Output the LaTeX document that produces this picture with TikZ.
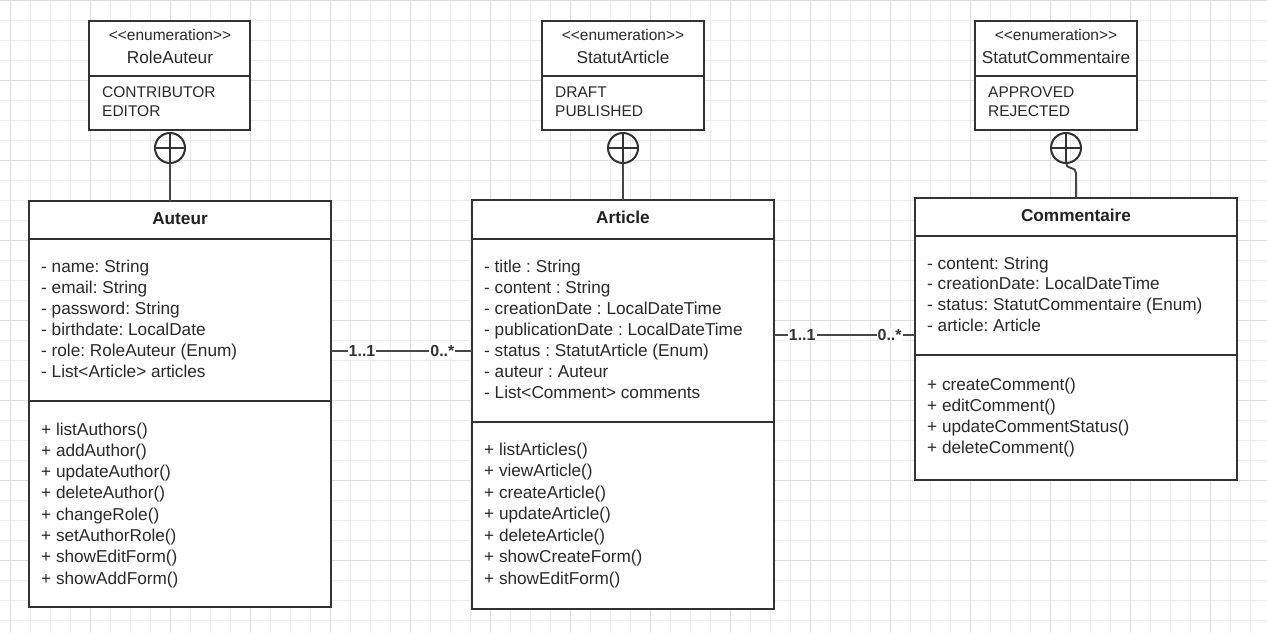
\documentclass[tikz,border=0pt]{standalone}
\usepackage{fontspec}
\setmainfont{Liberation Sans}
\frenchspacing
\definecolor{inkc}{HTML}{333333}
\definecolor{txtc}{HTML}{2A2A2A}
\definecolor{gridminor}{HTML}{ECECEC}
\definecolor{gridmajor}{HTML}{DDDDDD}
\begin{document}
\begin{tikzpicture}[x=1pt,y=-1pt,
  umlbox/.style={draw=inkc, line width=2pt, fill=white, anchor=north west, inner sep=0pt, outer sep=0pt},
  divider/.style={draw=inkc, line width=2pt},
  conn/.style={draw=inkc!90, line width=2pt},
  member/.style={anchor=base west, inner sep=0pt, text=txtc, font=\fontsize{17.2}{21}\selectfont},
  literal/.style={anchor=base west, inner sep=0pt, text=txtc, font=\fontsize{15.5}{19}\selectfont},
  classname/.style={anchor=base, inner sep=0pt, text=txtc!80!black, font=\fontsize{17.2}{21}\selectfont\bfseries},
  enumname/.style={anchor=base, inner sep=0pt, text=txtc, font=\fontsize{17.2}{21}\selectfont},
  stereo/.style={anchor=base, inner sep=0pt, text=txtc, font=\fontsize{15.5}{19}\selectfont},
  mult/.style={anchor=center, fill=white, inner sep=1pt, text=inkc, font=\fontsize{16}{19}\selectfont\bfseries},
  nest/.style={circle, draw=inkc, line width=2pt, minimum size=30pt, inner sep=0pt, outer sep=0pt,
    path picture={\draw[inkc, line width=2pt]
      (path picture bounding box.north) -- (path picture bounding box.south)
      (path picture bounding box.west) -- (path picture bounding box.east);}},
]
% canvas and background grid
\useasboundingbox (0,0) rectangle (1267,633);
\fill[white] (0,0) rectangle (1267,633);
\foreach \gx in {10,30,...,1270} \draw[gridminor, line width=1pt] (\gx,0) -- (\gx,633);
\foreach \gy in {0,20,...,640} \draw[gridminor, line width=1pt] (0,\gy) -- (1267,\gy);
\foreach \gx in {10,90,...,1270} \draw[gridmajor, line width=1pt] (\gx,0) -- (\gx,633);
\foreach \gy in {0,80,...,640} \draw[gridmajor, line width=1pt] (0,\gy) -- (1267,\gy);

% ---------- enumerations ----------
\node[umlbox, minimum width=161pt, minimum height=109pt] (roleAuteur) at (89,21) {};
\draw[divider] (roleAuteur.west |- 0,76) -- (roleAuteur.east |- 0,76);
\node[stereo] (roleAuteurSt) at (170,40.5) {<{}<enumeration>{}>};
\node[enumname] (roleAuteurNm) at (170,63) {RoleAuteur};
\node[literal] (roleLit1) at (102,97.5) {CONTRIBUTOR};
\node[literal] (roleLit2) at (102,116.5) {EDITOR};

\node[umlbox, minimum width=162pt, minimum height=109pt] (statutArticle) at (542,21) {};
\draw[divider] (statutArticle.west |- 0,76) -- (statutArticle.east |- 0,76);
\node[stereo] (statutArticleSt) at (623,40.5) {<{}<enumeration>{}>};
\node[enumname] (statutArticleNm) at (623,63) {StatutArticle};
\node[literal] (artLit1) at (555,97.5) {DRAFT};
\node[literal] (artLit2) at (555,116.5) {PUBLISHED};

\node[umlbox, minimum width=162pt, minimum height=109pt] (statutComm) at (975,21) {};
\draw[divider] (statutComm.west |- 0,76) -- (statutComm.east |- 0,76);
\node[stereo] (statutCommSt) at (1056,40.5) {<{}<enumeration>{}>};
\node[enumname] (statutCommNm) at (1056,63) {StatutCommentaire};
\node[literal] (comLit1) at (988,97.5) {APPROVED};
\node[literal] (comLit2) at (988,116.5) {REJECTED};

% ---------- classes ----------
\node[umlbox, minimum width=302pt, minimum height=406pt] (auteur) at (29,201) {};
\draw[divider] (auteur.west |- 0,239) -- (auteur.east |- 0,239);
\draw[divider] (auteur.west |- 0,401) -- (auteur.east |- 0,401);
\node[classname] (auteurNm) at (180,224) {Auteur};
\foreach \t [count=\i] in {{- name: String},{- email: String},{- password: String},{- birthdate: LocalDate},{- role: RoleAuteur (Enum)},{- List<Article> articles}}
  \node[member] (auteurAttr\i) at (41,{272+21*(\i-1)}) {\t};
\foreach \t [count=\i] in {{+ listAuthors()},{+ addAuthor()},{+ updateAuthor()},{+ deleteAuthor()},{+ changeRole()},{+ setAuthorRole()},{+ showEditForm()},{+ showAddForm()}}
  \node[member] (auteurOp\i) at (41,{435+21.3*(\i-1)}) {\t};

\node[umlbox, minimum width=302pt, minimum height=409pt] (article) at (472,200) {};
\draw[divider] (article.west |- 0,239) -- (article.east |- 0,239);
\draw[divider] (article.west |- 0,422) -- (article.east |- 0,422);
\node[classname] (articleNm) at (623,223) {Article};
\foreach \t [count=\i] in {{- title : String},{- content : String},{- creationDate : LocalDateTime},{- publicationDate : LocalDateTime},{- status : StatutArticle (Enum)},{- auteur : Auteur},{- List<Comment> comments}}
  \node[member] (articleAttr\i) at (484,{272+21*(\i-1)}) {\t};
\foreach \t [count=\i] in {{+ listArticles()},{+ viewArticle()},{+ createArticle()},{+ updateArticle()},{+ deleteArticle()},{+ showCreateForm()},{+ showEditForm()}}
  \node[member] (articleOp\i) at (484,{455+21.5*(\i-1)}) {\t};

\node[umlbox, minimum width=322pt, minimum height=282pt] (commentaire) at (915,198) {};
\draw[divider] (commentaire.west |- 0,236) -- (commentaire.east |- 0,236);
\draw[divider] (commentaire.west |- 0,355) -- (commentaire.east |- 0,355);
\node[classname] (commentaireNm) at (1076,221) {Commentaire};
\foreach \t [count=\i] in {{- content: String},{- creationDate: LocalDateTime},{- status: StatutCommentaire (Enum)},{- article: Article}}
  \node[member] (commAttr\i) at (927,{269+20.7*(\i-1)}) {\t};
\foreach \t [count=\i] in {{+ createComment()},{+ editComment()},{+ updateCommentStatus()},{+ deleteComment()}}
  \node[member] (commOp\i) at (927,{390+21.3*(\i-1)}) {\t};

% ---------- nesting (containment) links ----------
\node[nest] (nestRole) at (170,148) {};
\draw[conn] (nestRole.south) -- (auteur.north -| nestRole.south);
\node[nest] (nestArticle) at (623,148) {};
\draw[conn] (nestArticle.south) -- (article.north -| nestArticle.south);
\node[nest] (nestComm) at (1066,148) {};
\draw[conn, rounded corners=5pt] (nestComm.south) -- ++(0,5) -- ++(10,0) -- (commentaire.north -| 1076,0);

% ---------- associations ----------
\draw[conn] (auteur.east |- 0,351) -- (article.west |- 0,351)
  node[mult, pos=0.22] (m1) {1..1}
  node[mult, pos=0.79] (m2) {0..*};
\draw[conn] (article.east |- 0,335) -- (commentaire.west |- 0,335)
  node[mult, pos=0.2] (m3) {1..1}
  node[mult, pos=0.82] (m4) {0..*};
\end{tikzpicture}
\end{document}
